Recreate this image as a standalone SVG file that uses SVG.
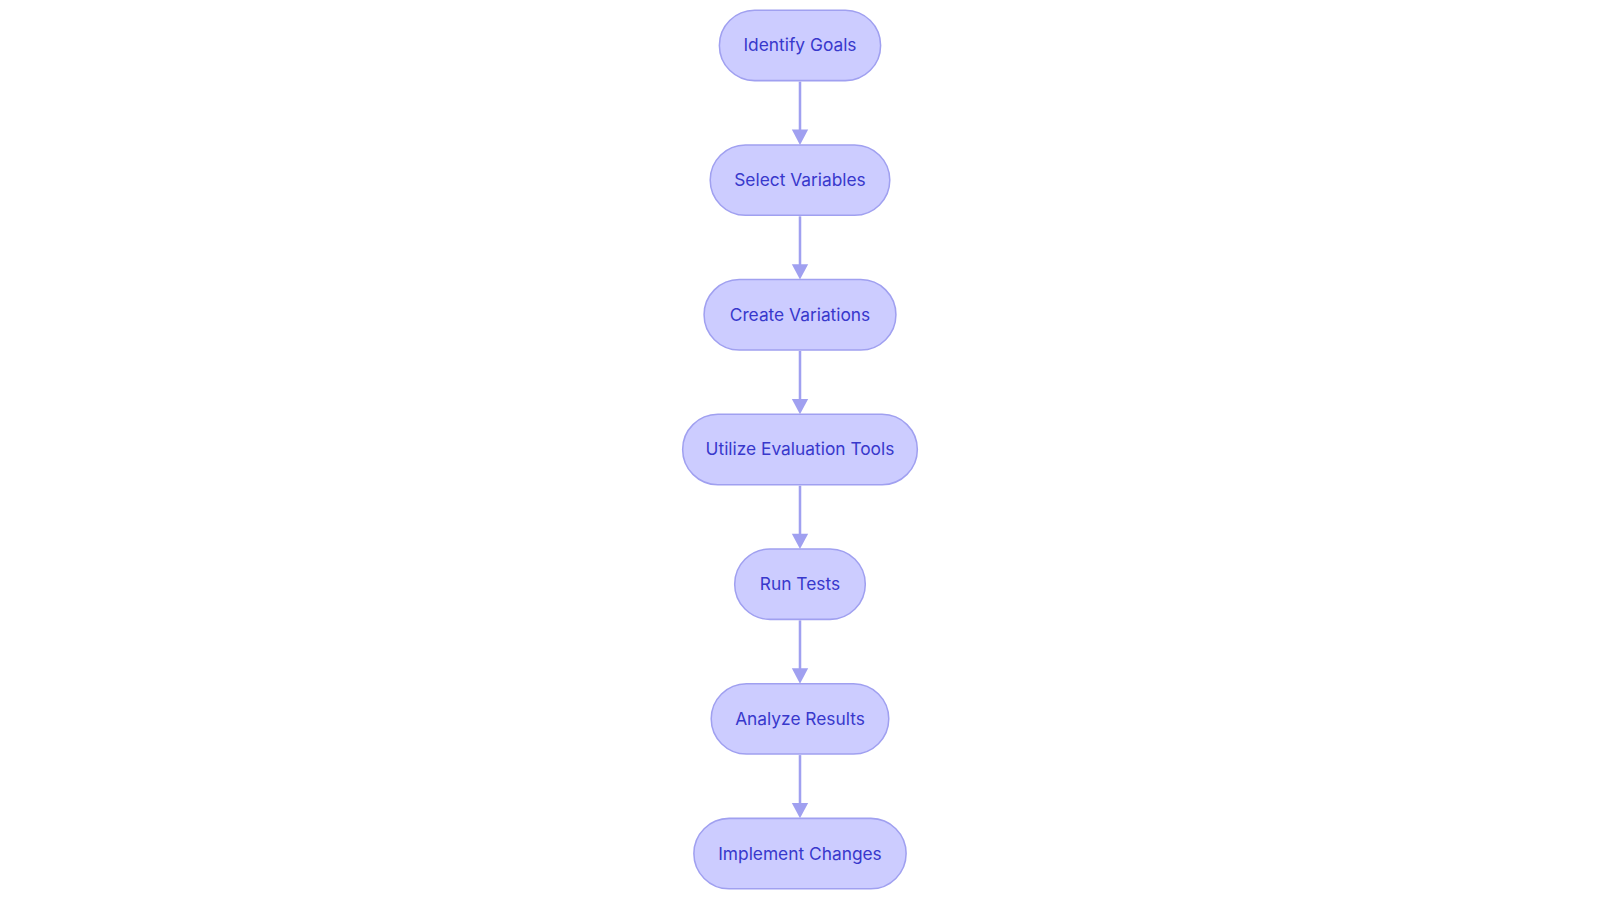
<svg xmlns="http://www.w3.org/2000/svg" width="1600" height="903" viewBox="0 0 1600 903">
<style>
.n rect{fill:#ccccff;stroke:#a0a0f0;stroke-width:1.5}
.n text{font-family:Inter,"Noto Sans",sans-serif;font-size:17px;fill:#3838cc;text-anchor:middle;dominant-baseline:central}
.e line{stroke:#a0a0f0;stroke-width:2.5}
.e path{fill:#a0a0f0}
</style>
<rect width="1600" height="903" fill="#fff"/>
<g transform="scale(1.0204)">
<g class="e">
<line x1="784" y1="80" x2="784" y2="128"/><path d="M776,127L792,127L784,142z"/>
<line x1="784" y1="212" x2="784" y2="260"/><path d="M776,259L792,259L784,274z"/>
<line x1="784" y1="344" x2="784" y2="392"/><path d="M776,391L792,391L784,406z"/>
<line x1="784" y1="476" x2="784" y2="524"/><path d="M776,523L792,523L784,538z"/>
<line x1="784" y1="608" x2="784" y2="656"/><path d="M776,655L792,655L784,670z"/>
<line x1="784" y1="740" x2="784" y2="788"/><path d="M776,787L792,787L784,802z"/>
</g>
<g id="n1" class="n"><rect x="705" y="10" width="158" height="69" rx="34.5"/><text x="784" y="44">Identify Goals</text></g>
<g id="n2" class="n"><rect x="696" y="142" width="176" height="69" rx="34.5"/><text x="784" y="176">Select Variables</text></g>
<g id="n3" class="n"><rect x="690" y="274" width="188" height="69" rx="34.5"/><text x="784" y="308">Create Variations</text></g>
<g id="n4" class="n"><rect x="669" y="406" width="230" height="69" rx="34.5"/><text x="784" y="440">Utilize Evaluation Tools</text></g>
<g id="n5" class="n"><rect x="720" y="538" width="128" height="69" rx="34.5"/><text x="784" y="572">Run Tests</text></g>
<g id="n6" class="n"><rect x="697" y="670" width="174" height="69" rx="34.5"/><text x="784" y="704">Analyze Results</text></g>
<g id="n7" class="n"><rect x="680" y="802" width="208" height="69" rx="34.5"/><text x="784" y="836">Implement Changes</text></g>
</g>
</svg>
